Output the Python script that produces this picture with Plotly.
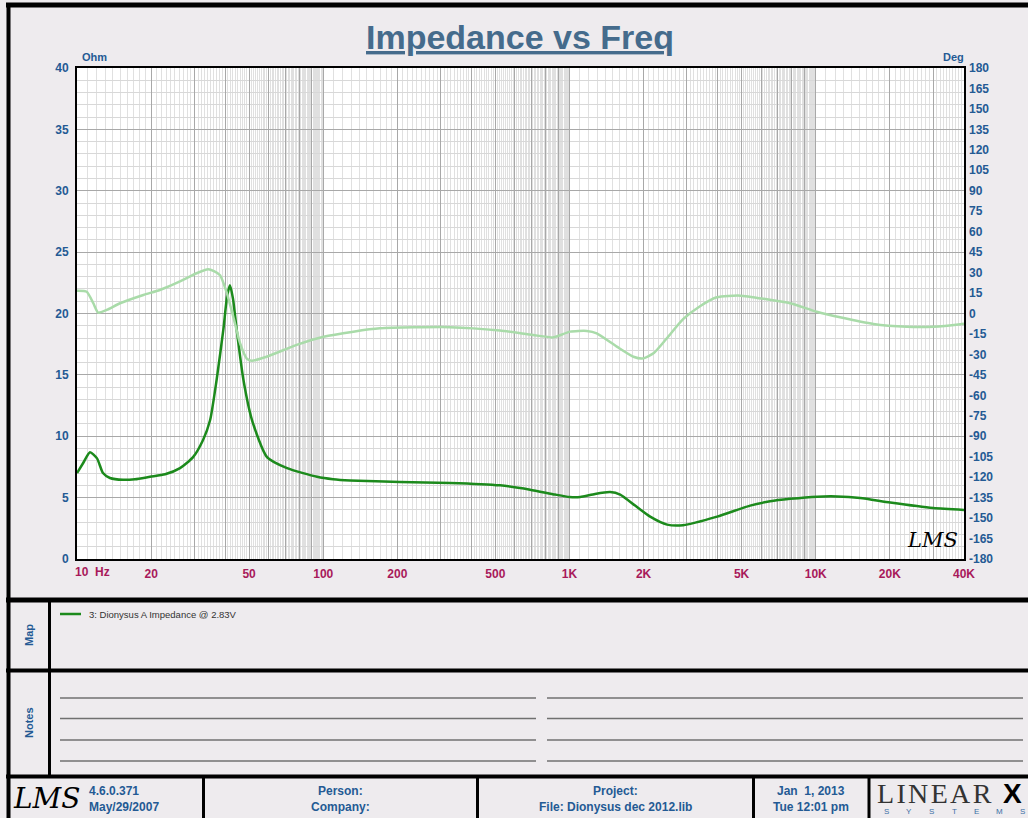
import math
import plotly.graph_objects as go

# ---------------- data ----------------
imp_freq = [10, 10.58, 11.29, 12.06, 12.75, 13.61, 15.38, 17.2, 19.8, 22.8, 26.2, 29.6, 32.5, 34.7,
            36.9, 39.3, 40.7, 41.8, 43.0, 44.5, 47.4, 51.4, 59.1, 71.3, 94.4, 109.6, 128.5, 205, 327,
            522, 692, 874, 1000, 1105, 1270, 1462, 1606, 1847, 2126, 2491, 2893, 3977, 5414, 6526,
            7870, 10130, 12220, 15150, 20060, 29990, 40000]
imp_ohm = [7.0, 7.8, 8.7, 8.2, 7.0, 6.6, 6.45, 6.5, 6.7, 6.9, 7.4, 8.3, 9.7, 11.3,
           14.6, 18.7, 21.4, 22.3, 21.2, 18.7, 14.6, 11.3, 8.3, 7.4, 6.7, 6.5, 6.4, 6.27, 6.2,
           6.0, 5.65, 5.25, 5.05, 5.05, 5.3, 5.45, 5.25, 4.35, 3.45, 2.8, 2.75, 3.45, 4.35, 4.7,
           4.9, 5.08, 5.1, 4.97, 4.6, 4.15, 4.0]

ph_freq = [10, 10.95, 11.65, 12.2, 13.2, 14.95, 18.6, 21.7, 26.2, 30.6, 34.1, 36.0, 38.1, 40.6,
           43.1, 45.9, 48.9, 51.2, 58.9, 78.0, 100.4, 132.6, 170, 327, 522, 711, 860, 899, 1006,
           1175, 1290, 1556, 1818, 1996, 2200, 2490, 2900, 3400, 3967, 4931, 6329, 7870, 10100,
           12550, 17140, 23440, 30060, 38590, 40000]
ph_deg = [16.7, 16.0, 7.5, 0.6, 2.6, 7.5, 13.6, 17.2, 23.5, 29.5, 32.4, 31, 28, 15,
          -2.3, -21.6, -33, -34.6, -31.7, -23, -17, -13.3, -10.9, -10, -12.5, -15.8, -17.5, -16.5, -13.3,
          -12.8, -14.5, -24.3, -31.7, -32.9, -29, -18, -4, 5.5, 11.9, 13.1, 10.4, 7.5, 1.3,
          -2.8, -7.7, -9.7, -9.7, -7.9, -7.5]

x_tick_vals = [10, 20, 50, 100, 200, 500, 1000, 2000, 5000, 10000, 20000, 40000]
x_tick_text = ["", "20", "50", "100", "200", "500", "1K", "2K", "5K", "10K", "20K", "40K"]
ohm_ticks = [0, 5, 10, 15, 20, 25, 30, 35, 40]
deg_ticks = list(range(-180, 181, 15))

# ---------------- styling ----------------
W, H = 1028, 818
X0, X1, Y0, Y1 = 77, 964, 68, 559
BG = "#EEEBEE"
BLUE = "#245A94"
TITLE_BLUE = "#456B8C"
MAGENTA = "#A8195A"
FONT = "Liberation Sans"


def px(x):
    return (x - X0) / (X1 - X0)


def py(y):
    return (Y1 - y) / (Y1 - Y0)


# grid positions (log-paper style)
major_x, minor_x = [], []
for d in [10, 100, 1000, 10000]:
    for k in range(1, 10):
        v = k * d
        if v <= 40000:
            major_x.append(v)
        for j in range(1, 10):
            m = (k + j / 10) * d
            if m < 40000:
                minor_x.append(m)

major_text = []
for v in major_x:
    if v in x_tick_vals:
        major_text.append(x_tick_text[x_tick_vals.index(v)])
    else:
        major_text.append("")

fig = go.Figure()
fig.add_trace(go.Scatter(x=ph_freq, y=ph_deg, yaxis="y2", mode="lines",
                         line=dict(color="#A9DBA9", width=2.5, shape="spline", smoothing=0.6),
                         showlegend=False, hoverinfo="skip"))
fig.add_trace(go.Scatter(x=imp_freq, y=imp_ohm, mode="lines",
                         line=dict(color="#1C8A1C", width=2.5, shape="spline", smoothing=0.6),
                         showlegend=False, name="3: Dionysus A Impedance @ 2.83V"))

fig.update_layout(
    width=W, height=H,
    margin=dict(l=X0, r=W - X1, t=Y0, b=H - Y1, pad=0),
    paper_bgcolor=BG, plot_bgcolor="white",
    showlegend=False,
    xaxis=dict(type="log", range=[1, math.log10(40000)],
               tickmode="array", tickvals=major_x, ticktext=major_text,
               showgrid=True, gridcolor="#A8A8A8", gridwidth=1,
               minor=dict(tickmode="array", tickvals=minor_x, showgrid=True,
                          gridcolor="#E0E0E0", gridwidth=1, ticks=""),
               ticks="", ticklabelstandoff=3,
               tickfont=dict(family=FONT, size=12, color=MAGENTA, weight="bold"),
               showline=True, linecolor="black", linewidth=2, mirror=True, zeroline=False),
    yaxis=dict(range=[0, 40], tickmode="array", tickvals=ohm_ticks,
               ticktext=[str(v) for v in ohm_ticks],
               showgrid=True, gridcolor="#A8A8A8", gridwidth=1,
               minor=dict(dtick=1, showgrid=True, gridcolor="#D8D8D8", gridwidth=1, ticks=""),
               ticks="", ticklabelstandoff=4,
               tickfont=dict(family=FONT, size=12, color=BLUE, weight="bold"),
               showline=True, linecolor="black", linewidth=2, mirror=True, zeroline=False),
    yaxis2=dict(range=[-180, 180], overlaying="y", side="right",
                tickmode="array", tickvals=deg_ticks, ticktext=[str(v) for v in deg_ticks],
                showgrid=False, zeroline=False, showline=False, ticks="", ticklabelstandoff=4,
                tickfont=dict(family=FONT, size=12, color=BLUE, weight="bold")),
)

shapes = []


def hline(y, x0, x1, w, color="black"):
    shapes.append(dict(type="line", xref="paper", yref="paper", x0=px(x0), x1=px(x1),
                       y0=py(y), y1=py(y), line=dict(color=color, width=w), layer="above"))


def vline(x, y0, y1, w, color="black"):
    shapes.append(dict(type="line", xref="paper", yref="paper", x0=px(x), x1=px(x),
                       y0=py(y0), y1=py(y1), line=dict(color=color, width=w), layer="above"))


# outer frame and section dividers
hline(5, 6, 1030, 5)
vline(8.5, 3, 820, 4)
hline(600, 6, 1030, 5)
hline(670.5, 6, 1030, 4)
hline(776.5, 6, 1030, 4)
vline(49.5, 600, 776, 3)
for xv in [203.5, 477.5, 753.5, 869]:
    vline(xv, 776, 820, 3)
# notes lines
for yv in [698, 718.5, 740, 761]:
    hline(yv, 60, 536, 1.5, "#707070")
    hline(yv, 547, 1023, 1.5, "#707070")
# legend sample line
hline(614, 60, 81, 2.5, "#1C8A1C")

fig.update_layout(shapes=shapes)

ann = []


def text(x, y, s, size, color=BLUE, bold=True, xanchor="center", family=FONT, angle=0,
         italic=False):
    ann.append(dict(xref="paper", yref="paper", x=px(x), y=py(y), text=s, showarrow=False,
                    xanchor=xanchor, yanchor="middle", textangle=angle,
                    font=dict(family=family, size=size, color=color,
                              weight="bold" if bold else "normal",
                              style="italic" if italic else "normal")))


text(520, 37, "<u>Impedance vs Freq</u>", 34, TITLE_BLUE)
text(80, 57, "Ohm", 11, xanchor="left")
text(966, 57, "Deg", 11, xanchor="right")
text(73, 572, "10  Hz", 12, MAGENTA, xanchor="left")
text(932, 540, "LMS", 21, "black", bold=False, family="DejaVu Serif", italic=True)
text(87, 614, "3: Dionysus A Impedance @ 2.83V", 9.5, "#333333", bold=False, xanchor="left")
text(29, 635, "Map", 11, angle=-90)
text(29, 723, "Notes", 11, angle=-90)
text(46, 798, "LMS", 28, "black", bold=False, family="DejaVu Serif", italic=True)
text(87, 791, "4.6.0.371", 12, xanchor="left")
text(87, 807, "May/29/2007", 12, xanchor="left")
text(340, 791, "Person:", 12)
text(340, 807, "Company:", 12)
text(615, 791, "Project:", 12)
text(615, 807, "File: Dionysus dec 2012.lib", 12)
text(811, 791, "Jan  1, 2013", 12)
text(811, 807, "Tue 12:01 pm", 12)
text(875, 793, "L\u200aI\u200aN\u200aE\u200aA\u200aR", 28, "#333333", bold=False,
     xanchor="left", family="Liberation Serif")
text(1013, 793, "X", 28, "black")
for i, ch in enumerate("SYSTEMS"):
    text(886 + i * 22.7, 811, ch, 8, "#3A6EA5", bold=False)
fig.update_layout(annotations=ann)

fig.write_html("out.html", config={"displayModeBar": False},
               post_script="document.body.style.margin='0px';document.body.style.overflow='hidden';")
